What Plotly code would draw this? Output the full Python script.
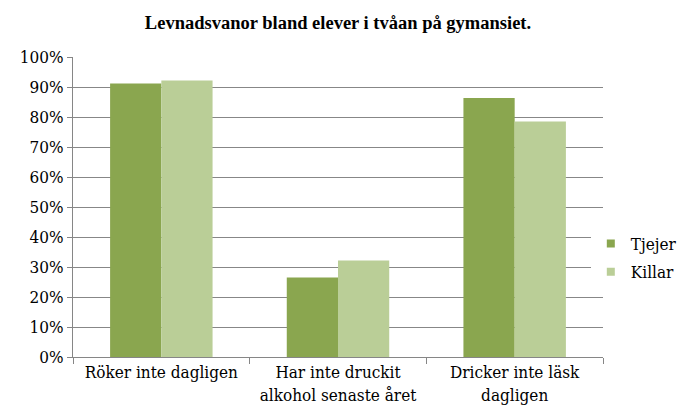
import plotly.graph_objects as go

categories = ["Röker inte dagligen", "Har inte druckit<br>alkohol senaste året", "Dricker inte läsk<br>dagligen"]
tjejer = [91.2, 26.5, 86.3]
killar = [92.2, 32.2, 78.5]
series_names = ["Tjejer", "Killar"]
colors = ["#8AA64F", "#BACE97"]
yticks = list(range(0, 101, 10))
ytick_labels = [f"{v}%" for v in yticks]

body_font = "DejaVu Serif Condensed, DejaVu Serif, serif"
tf = dict(family=body_font, size=17, color="black")

fig = go.Figure()
for name, vals, c in zip(series_names, [tjejer, killar], colors):
    fig.add_trace(go.Bar(x=categories, y=vals, name=name, marker_color=c,
                         marker_line_width=0, showlegend=False))
for i, (name, c) in enumerate(zip(series_names, colors)):
    fig.add_trace(go.Scatter(x=[None], y=[None], mode="markers", name=name,
                             marker=dict(symbol="square", size=8, color=c),
                             legendgroup=f"g{i}"))

fig.update_layout(
    width=691, height=404,
    margin=dict(l=65, r=96, t=49, b=55, autoexpand=False),
    paper_bgcolor="white", plot_bgcolor="white",
    barmode="group", bargap=0.42, bargroupgap=0,
    font=tf,
    title=dict(text="<b>Levnadsvanor bland elever i tvåan på gymansiet.</b>",
               x=0.5, xref="paper", xanchor="center", y=0.965, yref="container",
               yanchor="middle",
               font=dict(family="Liberation Serif", size=18.5, color="black")),
    legend=dict(x=0.977, y=0.33, yanchor="middle", xanchor="left",
                font=tf, tracegroupgap=3, itemwidth=30),
    xaxis=dict(type="category", showline=True, linecolor="#868686", linewidth=1,
               ticks="outside", tickson="boundaries", ticklen=6, tickcolor="#868686",
               showgrid=False, tickfont=tf),
    yaxis=dict(range=[0, 100], tickvals=yticks, ticktext=ytick_labels,
               showline=True, linecolor="#868686", linewidth=1,
               ticks="outside", ticklen=5, tickcolor="#868686",
               showgrid=True, gridcolor="#878787", gridwidth=1, zeroline=False,
               tickfont=tf),
)

fig.write_html("out.html")
